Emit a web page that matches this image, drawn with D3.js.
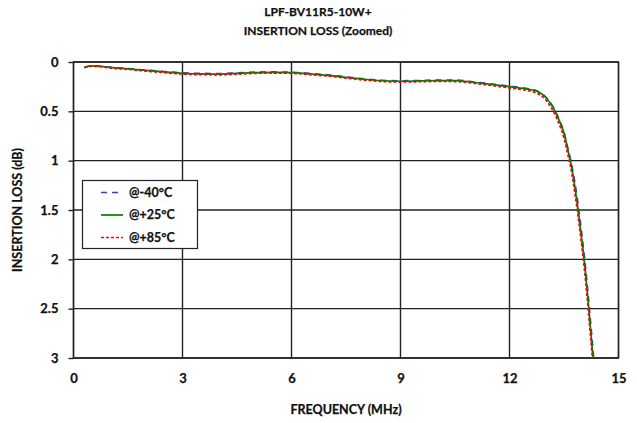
<!DOCTYPE html>
<html><head><meta charset="utf-8">
<script src="https://cdn.jsdelivr.net/npm/d3@7"></script>
<style>body{margin:0;background:#fff}svg{display:block}text{font-family:Lato,"Open Sans",sans-serif;font-weight:bold;fill:#111;stroke:#111;stroke-width:0.25px}</style>
</head><body><svg id="c" width="637" height="423"></svg>
<script>
const freq = [0.3,0.5,0.75,1,1.5,2,2.5,3,3.5,4,4.5,5,5.5,6,6.5,7,7.5,8,8.5,9,9.5,10,10.5,11,11.5,12,12.25,12.5,12.75,13,13.1,13.2,13.3,13.4,13.5,13.6,13.7,13.8,13.9,14.0,14.1,14.2,14.3,14.35];
const lossM40 = [0.055,0.038,0.043,0.052,0.066,0.082,0.097,0.11,0.115,0.117,0.11,0.102,0.1,0.103,0.115,0.13,0.15,0.17,0.185,0.19,0.187,0.183,0.183,0.2,0.222,0.245,0.256,0.27,0.29,0.355,0.4,0.455,0.525,0.61,0.71,0.86,1.02,1.22,1.47,1.77,2.1,2.5,2.92,3.15];
const lossP25 = [0.055,0.04,0.045,0.055,0.07,0.085,0.1,0.115,0.12,0.122,0.115,0.108,0.105,0.108,0.12,0.135,0.155,0.175,0.19,0.195,0.192,0.188,0.188,0.205,0.228,0.25,0.262,0.275,0.295,0.36,0.405,0.46,0.535,0.62,0.72,0.88,1.04,1.27,1.53,1.83,2.16,2.57,3.0,3.2];
const lossP85 = [0.058,0.043,0.048,0.06,0.075,0.092,0.108,0.122,0.128,0.13,0.123,0.115,0.112,0.115,0.128,0.143,0.163,0.183,0.198,0.203,0.2,0.197,0.198,0.215,0.238,0.262,0.275,0.29,0.315,0.385,0.435,0.495,0.57,0.66,0.77,0.93,1.1,1.33,1.6,1.9,2.24,2.65,3.08,3.3];
const xTicks = [0,3,6,9,12,15];
const yTicks = [0,0.5,1,1.5,2,2.5,3];
const seriesNames = ["@-40°C","@+25°C","@+85°C"];
const titleLines = ["LPF-BV11R5-10W+","INSERTION LOSS (Zoomed)"];

const svg = d3.select("#c");
const L=73.5, R=618.5, T=62, B=358;
const x = d3.scaleLinear().domain([0,15]).range([L,R]);
const y = d3.scaleLinear().domain([0,3]).range([T,B]);

// grid
const g = svg.append("g");
g.selectAll(".vg").data(xTicks).join("line")
 .attr("x1",d=>x(d)).attr("x2",d=>x(d)).attr("y1",T).attr("y2",B)
 .attr("stroke","#222").attr("stroke-width",1.4);
g.selectAll(".hg").data(yTicks).join("line")
 .attr("x1",L).attr("x2",R).attr("y1",d=>y(d)).attr("y2",d=>y(d))
 .attr("stroke","#222").attr("stroke-width",1.4);

// axes
const ya = d3.axisLeft(y).tickValues(yTicks).tickSize(5).tickPadding(10).tickFormat(d=>String(d));
const xa = d3.axisBottom(x).tickValues(xTicks).tickSize(0).tickPadding(16).tickFormat(d=>String(d));
const yg = svg.append("g").attr("transform",`translate(${L},0)`).call(ya);
const xg = svg.append("g").attr("transform",`translate(0,${B})`).call(xa);
[yg,xg].forEach(a=>{a.select(".domain").remove();a.selectAll("line").attr("stroke","#222").attr("stroke-width",1.4);a.selectAll("text").style("font-size","13px").style("font-family","Lato, sans-serif").style("font-weight","bold").attr("fill","#111");});
svg.append("rect").attr("x",L).attr("y",T).attr("width",R-L).attr("height",B-T).attr("fill","none").attr("stroke","#222").attr("stroke-width",1.4);

// clip
svg.append("clipPath").attr("id","pc").append("rect").attr("x",L).attr("y",T-5).attr("width",R-L).attr("height",B-T+5);

const line = d3.line().curve(d3.curveMonotoneX);
const series = [
 {v:lossM40,color:"#3c3cd2",dash:"6,5",w:1.6},
 {v:lossP25,color:"#008000",dash:null,w:1.7},
 {v:lossP85,color:"#ff0000",dash:"3,2",w:1.7}
];
const lg = svg.append("g").attr("clip-path","url(#pc)");
series.forEach(s=>{
 lg.append("path").attr("d",line(freq.map((f,i)=>[x(f),y(s.v[i])])))
  .attr("fill","none").attr("stroke",s.color).attr("stroke-width",s.w)
  .attr("stroke-dasharray",s.dash);
});

// legend
const leg = svg.append("g");
leg.append("rect").attr("x",82.5).attr("y",180.5).attr("width",115).attr("height",68).attr("fill","#fff").attr("stroke","#222").attr("stroke-width",1.2);
series.forEach((s,i)=>{
 const yy = 192.5 + i*22.5;
 leg.append("line").attr("x1",101).attr("x2",123).attr("y1",yy).attr("y2",yy)
  .attr("stroke",s.color).attr("stroke-width",s.w).attr("stroke-dasharray",s.dash);
 leg.append("text").attr("x",129).attr("y",yy).attr("dy","0.35em").style("font-size","12.5px").text(seriesNames[i]);
});

// titles
svg.selectAll(".tt").data(titleLines).join("text")
 .attr("x",318).attr("y",(d,i)=>16+i*19).attr("text-anchor","middle").style("font-size","12px").text(d=>d);
svg.append("text").attr("x",346).attr("y",414).attr("text-anchor","middle").style("font-size","12.5px").text("FREQUENCY (MHz)");
svg.append("text").attr("transform","translate(22,210) rotate(-90)").attr("text-anchor","middle").style("font-size","12.5px").text("INSERTION LOSS (dB)");
</script></body></html>
